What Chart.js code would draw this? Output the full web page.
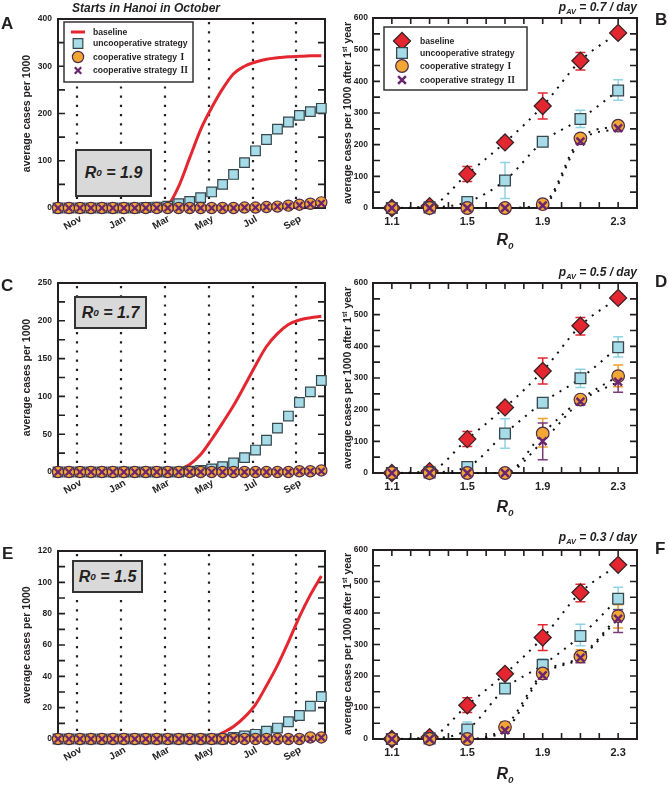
<!DOCTYPE html>
<html>
<head>
<meta charset="utf-8">
<script src="https://cdn.jsdelivr.net/npm/chart.js@4.4.1/dist/chart.umd.min.js"></script>
<style>
  body { margin: 0; background: #fff; }
  #page { position: relative; width: 669px; height: 786px; overflow: hidden; font-family: "Liberation Sans", Arial, sans-serif; color: #231f20; }
  canvas { position: absolute; }
  .t { position: absolute; font-weight: bold; line-height: 1; white-space: nowrap; }
  .letter { font-size: 17px; }
  .pav { font-size: 12px; font-style: italic; right: 32px; }
  .r0 { font-size: 16px; font-style: italic; left: 505px; transform: translateX(-50%); }
  .box { position: absolute; background: #d9d9d9; border: 2px solid #333; box-sizing: border-box; display: flex; align-items: center; justify-content: center; font-weight: bold; font-style: italic; font-size: 16px; line-height: 1; }
  .ytitle { position: absolute; font-weight: bold; font-size: 10.5px; line-height: 1; white-space: nowrap; transform: translate(-50%, -50%) rotate(-90deg); }
  sub { font-size: 0.62em; vertical-align: -0.4em; }
  sup { font-size: 0.62em; vertical-align: 0.55em; }
</style>
</head>
<body>
<div id="page">
  <canvas id="cA" width="335" height="255" style="left:0;top:0"></canvas>
  <canvas id="cC" width="335" height="255" style="left:0;top:255px"></canvas>
  <canvas id="cE" width="335" height="276" style="left:0;top:510px"></canvas>
  <canvas id="cB" width="334" height="255" style="left:335px;top:0"></canvas>
  <canvas id="cD" width="334" height="255" style="left:335px;top:255px"></canvas>
  <canvas id="cF" width="334" height="276" style="left:335px;top:510px"></canvas>

  <div class="t" style="left:72px;top:2px;font-size:12px;font-style:italic">Starts in Hanoi in October</div>

  <div class="t letter" style="left:1px;top:15px">A</div>
  <div class="t letter" style="left:655px;top:11px">B</div>
  <div class="t letter" style="left:1px;top:277px">C</div>
  <div class="t letter" style="left:655px;top:273px">D</div>
  <div class="t letter" style="left:2px;top:545px">E</div>
  <div class="t letter" style="left:655px;top:540px">F</div>

  <div class="box" style="left:75px;top:149px;width:77px;height:48px">R<sub>0</sub>&nbsp;= 1.9</div>
  <div class="box" style="left:74px;top:296px;width:73px;height:33px">R<sub>0</sub>&nbsp;= 1.7</div>
  <div class="box" style="left:72px;top:560px;width:71px;height:33px">R<sub>0</sub>&nbsp;= 1.5</div>

  <div class="t pav" style="top:1px">p<sub>AV</sub> = 0.7 / day</div>
  <div class="t pav" style="top:266px">p<sub>AV</sub> = 0.5 / day</div>
  <div class="t pav" style="top:531px">p<sub>AV</sub> = 0.3 / day</div>

  <div class="t r0" style="top:232px">R<sub>0</sub></div>
  <div class="t r0" style="top:499px">R<sub>0</sub></div>
  <div class="t r0" style="top:766px">R<sub>0</sub></div>

  <div class="ytitle" style="left:347px;top:113px">average cases per 1000 after 1<sup>st</sup> year</div>
  <div class="ytitle" style="left:347px;top:378px">average cases per 1000 after 1<sup>st</sup> year</div>
  <div class="ytitle" style="left:347px;top:644px">average cases per 1000 after 1<sup>st</sup> year</div>
</div>

<script>
// ---- time course panels (days since start of the season, Oct) ----
const days = [0, 15, 30, 45, 60, 75, 90, 105, 120, 135, 150, 165, 180, 195, 210, 225, 240, 255, 270, 285, 300, 315, 330, 345, 360];
const monthTicks = [26, 86, 146, 206, 266, 326];
const monthNames = ['Nov', 'Jan', 'Mar', 'May', 'Jul', 'Sep'];

// A: R0 = 1.9
const baseA  = [0, 0, 0, 0, 0, 0, 0, 0, 0, 0, 6, 46, 106, 166, 212, 252, 284, 300, 309, 315, 318, 320, 321, 322, 322];
const uncoA  = [0, 0, 0, 0, 0, 0, 0, 0, 1, 2, 4, 9, 14, 22, 34, 50, 71, 96, 121, 145, 167, 182, 196, 204, 211];
const coop1A = [0, 0, 0, 0, 0, 0, 0, 0, 0, 0, 0, 0, 0, 0, 0, 0, 0, 1, 1, 2, 3, 5, 7, 9, 12];
const coop2A = [0, 0, 0, 0, 0, 0, 0, 0, 0, 0, 0, 0, 0, 0, 0, 0, 0, 1, 1, 2, 3, 4, 6, 8, 10];

// C: R0 = 1.7
const baseC  = [0, 0, 0, 0, 0, 0, 0, 0, 0, 0, 0, 3, 10, 23, 43, 65, 88, 114, 141, 166, 183, 195, 201, 204, 206];
const uncoC  = [0, 0, 0, 0, 0, 0, 0, 0, 0, 0, 0, 0, 1, 2, 4, 7, 12, 19, 29, 42, 58, 74, 92, 106, 121];
const coop1C = [0, 0, 0, 0, 0, 0, 0, 0, 0, 0, 0, 0, 0, 0, 0, 0, 0, 0, 0, 0, 0, 0, 1, 1, 2];
const coop2C = [0, 0, 0, 0, 0, 0, 0, 0, 0, 0, 0, 0, 0, 0, 0, 0, 0, 0, 0, 0, 0, 0, 1, 1, 1];

// E: R0 = 1.5
const baseE  = [0, 0, 0, 0, 0, 0, 0, 0, 0, 0, 0, 0, 0, 0, 1, 4, 8, 14, 22, 34, 47, 62, 78, 92, 104];
const uncoE  = [0, 0, 0, 0, 0, 0, 0, 0, 0, 0, 0, 0, 0, 0, 0, 0, 1, 2, 3, 5, 7, 11, 15, 21, 27];
const coop1E = [0, 0, 0, 0, 0, 0, 0, 0, 0, 0, 0, 0, 0, 0, 0, 0, 0, 0, 0, 0, 0, 0, 0, 1, 1];
const coop2E = [0, 0, 0, 0, 0, 0, 0, 0, 0, 0, 0, 0, 0, 0, 0, 0, 0, 0, 0, 0, 0, 0, 0, 0, 1];

// ---- final size vs R0 panels ----
const r0Vals = [1.1, 1.3, 1.5, 1.7, 1.9, 2.1, 2.3];
const r0Ticks = [1.0, 1.1, 1.2, 1.3, 1.4, 1.5, 1.6, 1.7, 1.8, 1.9, 2.0, 2.1, 2.2, 2.3, 2.4];
const r0Labels = ['1.1', '1.5', '1.9', '2.3'];

const baseR   = [0, 6, 107, 207, 322, 465, 553];
const baseRLo = [0, 6, 84, 197, 281, 436, 543];
const baseRHi = [0, 6, 131, 220, 363, 491, 565];

// B: pAV = 0.7
const uncoB    = [0, 2, 19, 87, 209, 281, 371];
const uncoBLo  = [0, 2, 6, 30, 203, 254, 340];
const uncoBHi  = [0, 2, 35, 144, 215, 309, 405];
const coop1B   = [0, 0, 0, 0, 12, 220, 260];
const coop1BLo = [0, 0, 0, 0, 6, 212, 252];
const coop1BHi = [0, 0, 0, 0, 18, 228, 268];
const coop2B   = [0, 0, 0, 0, 8, 210, 252];
const coop2BLo = [0, 0, 0, 0, 3, 203, 245];
const coop2BHi = [0, 0, 0, 0, 13, 217, 259];

// D: pAV = 0.5
const uncoD    = [0, 2, 19, 125, 222, 299, 397];
const uncoDLo  = [0, 2, 10, 78, 214, 270, 366];
const uncoDHi  = [0, 2, 28, 171, 230, 328, 430];
const coop1D   = [0, 0, 0, 0, 125, 232, 306];
const coop1DLo = [0, 0, 0, 0, 82, 222, 272];
const coop1DHi = [0, 0, 0, 0, 172, 242, 341];
const coop2D   = [0, 0, 0, 0, 100, 225, 288];
const coop2DLo = [0, 0, 0, 0, 42, 215, 255];
const coop2DHi = [0, 0, 0, 0, 158, 235, 320];

// F: pAV = 0.3
const uncoF    = [0, 2, 30, 160, 235, 327, 445];
const uncoFLo  = [0, 2, 8, 145, 218, 296, 412];
const uncoFHi  = [0, 2, 54, 195, 255, 364, 482];
const coop1F   = [0, 0, 0, 38, 208, 262, 390];
const coop1FLo = [0, 0, 0, 25, 195, 245, 352];
const coop1FHi = [0, 0, 0, 55, 220, 283, 426];
const coop2F   = [0, 0, 0, 28, 202, 258, 382];
const coop2FLo = [0, 0, 0, 18, 190, 242, 338];
const coop2FHi = [0, 0, 0, 40, 215, 275, 410];

const seriesNames = ['baseline', 'uncooperative strategy', 'cooperative strategy I', 'cooperative strategy II'];

const INK = '#231f20';
const RED = '#e3262f', BLUE = '#a6dbe8', ORANGE = '#f2a634', PURPLE = '#6b2570';
const FONT = '"Liberation Sans", Arial, sans-serif';

Chart.defaults.font.family = FONT;
Chart.defaults.font.weight = 'bold';
Chart.defaults.color = INK;

const panelExtras = {};

function xy(xs, ys) {
    return xs.map((x, i) => ({ x: x, y: ys[i] }));
}

function drawLegend(chart, lg) {
    const ctx = chart.ctx;
    ctx.save();
    ctx.fillStyle = '#fff';
    ctx.fillRect(lg.x, lg.y, lg.w, lg.h);
    ctx.strokeStyle = '#333';
    ctx.lineWidth = 1.5;
    ctx.strokeRect(lg.x, lg.y, lg.w, lg.h);
    seriesNames.forEach((name, i) => {
        const ds = chart.data.datasets.find(d => d.label === name);
        const sy = lg.y + lg.rows[i];
        if (ds.showLine) {
            ctx.strokeStyle = ds.borderColor;
            ctx.lineWidth = 3;
            ctx.beginPath();
            ctx.moveTo(lg.symX - 7, sy);
            ctx.lineTo(lg.symX + 7, sy);
            ctx.stroke();
        } else {
            ctx.fillStyle = ds.backgroundColor || 'rgba(0,0,0,0)';
            ctx.strokeStyle = ds.borderColor;
            ctx.lineWidth = ds.borderWidth;
            Chart.helpers.drawPoint(ctx, { pointStyle: ds.pointStyle, radius: ds.pointRadius, borderWidth: ds.borderWidth, rotation: 0 }, lg.symX, sy);
        }
        // roman numerals are set in a serif face
        const m = name.match(/^(.*\s)(I+)$/);
        const head = m ? m[1] : name;
        ctx.fillStyle = INK;
        ctx.textBaseline = 'middle';
        ctx.textAlign = 'left';
        ctx.font = 'bold 8.6px ' + FONT;
        ctx.fillText(head, lg.textX, sy + 0.5);
        if (m) {
            const w = ctx.measureText(head).width;
            ctx.font = 'bold 9.5px "Liberation Serif", serif';
            ctx.fillText(m[2], lg.textX + w + 1, sy + 0.5);
        }
    });
    ctx.restore();
}

const framePlugin = {
    id: 'frame',
    beforeDatasetsDraw(chart) {
        const ex = panelExtras[chart.canvas.id];
        const ctx = chart.ctx, a = chart.chartArea;
        const x = chart.scales.x, y = chart.scales.y;
        ctx.save();
        if (ex.vlines) {
            ctx.strokeStyle = INK;
            ctx.lineWidth = 2.2;
            ctx.setLineDash([2.2, 7]);
            ex.vlines.forEach(v => {
                const px = Math.round(x.getPixelForValue(v));
                ctx.beginPath();
                ctx.moveTo(px, a.top + 3);
                ctx.lineTo(px, a.bottom);
                ctx.stroke();
            });
            ctx.setLineDash([]);
        }
        // error bars under the markers
        (ex.errors || []).forEach(e => {
            ctx.strokeStyle = e.color;
            ctx.lineWidth = 1.5;
            ctx.beginPath();
            e.lo.forEach((lo, i) => {
                const hi = e.hi[i];
                if (hi - lo < 2) return;
                const px = x.getPixelForValue(r0Vals[i]);
                const p1 = y.getPixelForValue(lo), p2 = y.getPixelForValue(hi);
                ctx.moveTo(px, p1); ctx.lineTo(px, p2);
                ctx.moveTo(px - 5, p1); ctx.lineTo(px + 5, p1);
                ctx.moveTo(px - 5, p2); ctx.lineTo(px + 5, p2);
            });
            ctx.stroke();
        });
        // frame with inward ticks
        ctx.strokeStyle = INK;
        ctx.lineWidth = 2;
        ctx.strokeRect(a.left, a.top, a.right - a.left, a.bottom - a.top);
        ctx.lineWidth = 1.6;
        ctx.beginPath();
        y.ticks.forEach(t => {
            const py = y.getPixelForValue(t.value);
            if (py < a.top + 2 || py > a.bottom - 2) return;
            ctx.moveTo(a.left, py); ctx.lineTo(a.left + 7, py);
            ctx.moveTo(a.right - 7, py); ctx.lineTo(a.right, py);
        });
        if (ex.xTicks) {
            x.ticks.forEach(t => {
                const px = x.getPixelForValue(t.value);
                if (px < a.left + 2 || px > a.right - 2) return;
                ctx.moveTo(px, a.top); ctx.lineTo(px, a.top + 6);
                ctx.moveTo(px, a.bottom - 6); ctx.lineTo(px, a.bottom);
            });
        }
        ctx.stroke();
        ctx.restore();
    },
    afterDraw(chart) {
        const ex = panelExtras[chart.canvas.id];
        if (ex.legend) drawLegend(chart, ex.legend);
    }
};

function timeChart(p) {
    panelExtras[p.id] = { vlines: monthTicks, legend: p.legend };
    new Chart(document.getElementById(p.id), {
        type: 'scatter',
        data: {
            datasets: [
                { label: seriesNames[3], data: xy(days, p.c2), pointStyle: 'crossRot', pointRadius: 4.6, borderColor: PURPLE, borderWidth: 2.2, order: 1, clip: false },
                { label: seriesNames[2], data: xy(days, p.c1), pointStyle: 'circle', pointRadius: 5.6, backgroundColor: ORANGE, borderColor: '#4a2b4a', borderWidth: 1.2, order: 2, clip: false },
                { label: seriesNames[1], data: xy(days, p.unco), pointStyle: 'rect', pointRadius: 6.8, backgroundColor: BLUE, borderColor: '#37474d', borderWidth: 1.2, order: 3, clip: false },
                { label: seriesNames[0], data: xy(days, p.base), showLine: true, pointRadius: 0, borderColor: RED, borderWidth: 3, cubicInterpolationMode: 'monotone', order: 4, clip: false }
            ]
        },
        options: {
            responsive: false,
            animation: false,
            events: [],
            layout: { padding: { top: p.plotTop - p.top, right: 10, left: 0, bottom: 0 } },
            scales: {
                x: {
                    type: 'linear', min: 0, max: 365,
                    afterBuildTicks: s => { s.ticks = monthTicks.map(v => ({ value: v })); },
                    ticks: { autoSkip: false, minRotation: 30, maxRotation: 30, padding: 5, labelOffset: 4, font: { size: 10, weight: 'bold' }, callback: (v, i) => monthNames[i] },
                    grid: { display: false, drawTicks: false },
                    border: { display: false },
                    afterFit: s => { s.height = p.top + p.height - p.plotBottom; }
                },
                y: {
                    min: 0, max: p.ymax,
                    ticks: { stepSize: p.yStep, autoSkip: false, padding: 6, font: { size: 8.5, weight: 'bold' }, callback: v => (v % p.yLabelStep === 0 ? v : '') },
                    grid: { display: false, drawTicks: false },
                    border: { display: false },
                    title: { display: true, text: 'average cases per 1000', font: { size: 10.5, weight: 'bold' }, padding: { top: 21, bottom: 0 } },
                    afterFit: s => { s.width = 58; }
                }
            },
            plugins: { legend: { display: false }, tooltip: { enabled: false } }
        },
        plugins: [framePlugin]
    });
}

function r0Chart(p) {
    panelExtras[p.id] = {
        xTicks: true,
        legend: p.legend,
        errors: [
            { lo: baseRLo, hi: baseRHi, color: RED },
            { lo: p.uncoLo, hi: p.uncoHi, color: '#8fd4e6' },
            { lo: p.c1Lo, hi: p.c1Hi, color: '#f0a02a' },
            { lo: p.c2Lo, hi: p.c2Hi, color: '#7a3a7a' }
        ]
    };
    const fit = ys => ({ label: '', data: xy(r0Vals, ys), showLine: true, pointRadius: 0, borderColor: '#111', borderWidth: 2, borderDash: [2, 6.5], cubicInterpolationMode: 'monotone', order: 10, clip: false });
    new Chart(document.getElementById(p.id), {
        type: 'scatter',
        data: {
            datasets: [
                { label: seriesNames[3], data: xy(r0Vals, p.c2), pointStyle: 'crossRot', pointRadius: 5.5, borderColor: PURPLE, borderWidth: 2.5, order: 1, clip: false },
                { label: seriesNames[2], data: xy(r0Vals, p.c1), pointStyle: 'circle', pointRadius: 6.3, backgroundColor: ORANGE, borderColor: '#4a2b4a', borderWidth: 1.2, order: 2, clip: false },
                { label: seriesNames[1], data: xy(r0Vals, p.unco), pointStyle: 'rect', pointRadius: 7.6, backgroundColor: BLUE, borderColor: '#37474d', borderWidth: 1.3, order: 3, clip: false },
                { label: seriesNames[0], data: xy(r0Vals, baseR), pointStyle: 'rectRot', pointRadius: 8.5, backgroundColor: RED, borderColor: '#3b2224', borderWidth: 1.3, order: 4, clip: false },
                fit(baseR), fit(p.unco), fit(p.c1), fit(p.c2)
            ]
        },
        options: {
            responsive: false,
            animation: false,
            events: [],
            layout: { padding: { top: p.plotTop - p.top, right: 32, left: 0, bottom: 0 } },
            scales: {
                x: {
                    type: 'linear', min: 1.0, max: 2.4,
                    afterBuildTicks: s => { s.ticks = r0Ticks.map(v => ({ value: v })); },
                    ticks: { autoSkip: false, maxRotation: 0, padding: 7, font: { size: 11, weight: 'bold' },
                        callback: v => { const s = v.toFixed(1); return r0Labels.includes(s) ? s : ''; } },
                    grid: { display: false, drawTicks: false },
                    border: { display: false },
                    afterFit: s => { s.height = p.top + p.height - p.plotBottom; }
                },
                y: {
                    min: 0, max: 600,
                    ticks: { stepSize: 50, autoSkip: false, padding: 5, font: { size: 8.5, weight: 'bold' }, callback: v => (v % 100 === 0 ? v : '') },
                    grid: { display: false, drawTicks: false },
                    border: { display: false },
                    afterFit: s => { s.width = 38; }
                }
            },
            plugins: { legend: { display: false }, tooltip: { enabled: false } }
        },
        plugins: [framePlugin]
    });
}

timeChart({ id: 'cA', top: 0, height: 255, plotTop: 19, plotBottom: 208, ymax: 400, yStep: 50, yLabelStep: 100,
    base: baseA, unco: uncoA, c1: coop1A, c2: coop2A,
    legend: { x: 64, y: 22, w: 129, h: 60, rows: [10, 21.5, 35, 48.5], symX: 78, textX: 93 } });
timeChart({ id: 'cC', top: 255, height: 255, plotTop: 283, plotBottom: 472, ymax: 250, yStep: 25, yLabelStep: 50,
    base: baseC, unco: uncoC, c1: coop1C, c2: coop2C });
timeChart({ id: 'cE', top: 510, height: 276, plotTop: 551, plotBottom: 739, ymax: 120, yStep: 10, yLabelStep: 20,
    base: baseE, unco: uncoE, c1: coop1E, c2: coop2E });

r0Chart({ id: 'cB', top: 0, height: 255, plotTop: 18, plotBottom: 208,
    unco: uncoB, uncoLo: uncoBLo, uncoHi: uncoBHi, c1: coop1B, c1Lo: coop1BLo, c1Hi: coop1BHi, c2: coop2B, c2Lo: coop2BLo, c2Hi: coop2BHi,
    legend: { x: 49, y: 27, w: 143, h: 63, rows: [14, 26, 39, 53], symX: 67, textX: 85 } });
r0Chart({ id: 'cD', top: 255, height: 255, plotTop: 283, plotBottom: 473,
    unco: uncoD, uncoLo: uncoDLo, uncoHi: uncoDHi, c1: coop1D, c1Lo: coop1DLo, c1Hi: coop1DHi, c2: coop2D, c2Lo: coop2DLo, c2Hi: coop2DHi });
r0Chart({ id: 'cF', top: 510, height: 276, plotTop: 550, plotBottom: 739,
    unco: uncoF, uncoLo: uncoFLo, uncoHi: uncoFHi, c1: coop1F, c1Lo: coop1FLo, c1Hi: coop1FHi, c2: coop2F, c2Lo: coop2FLo, c2Hi: coop2FHi });
</script>
</body>
</html>
